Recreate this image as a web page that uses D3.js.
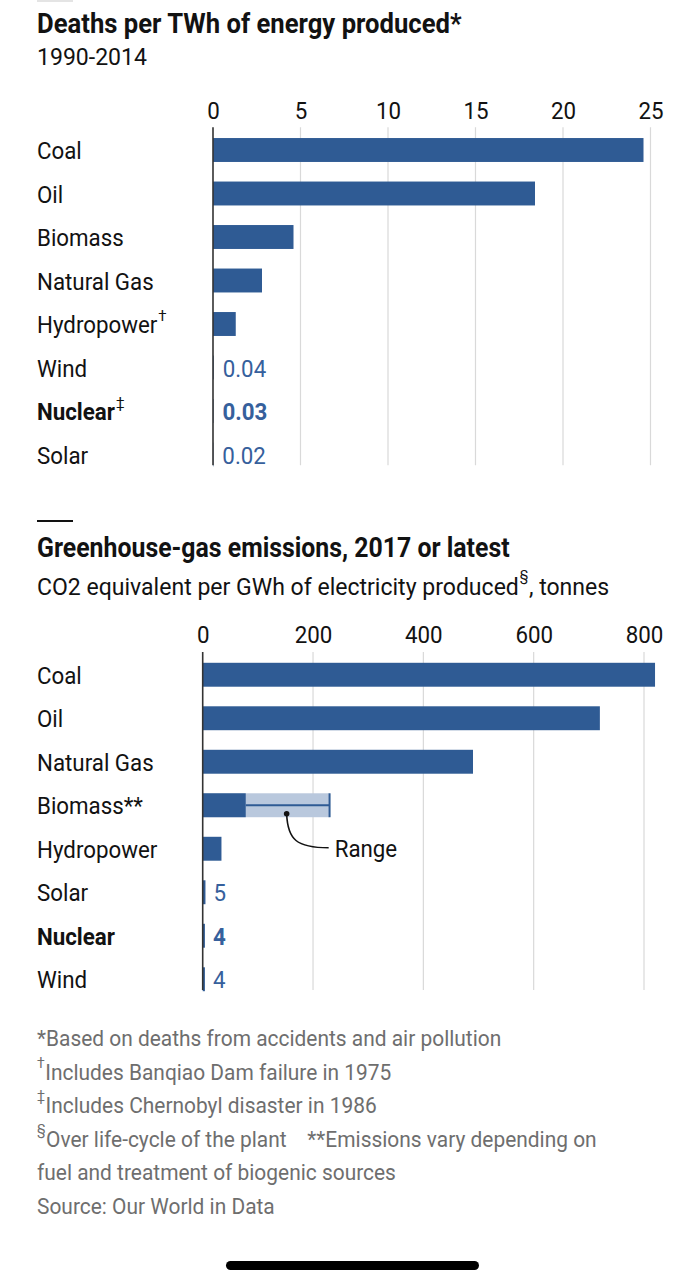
<!DOCTYPE html>
<html><head><meta charset="utf-8">
<script src="https://cdn.jsdelivr.net/npm/d3@7/dist/d3.min.js"></script>
<style>
body{margin:0;background:#fff}
svg text{font-family:'Roboto','Liberation Sans',sans-serif}
</style>
</head><body>
<svg id="c" width="700" height="1286"></svg>
<script>
// ---- data ----
const deathCategories = ["Coal","Oil","Biomass","Natural Gas","Hydropower","Wind","Nuclear","Solar"];
const deathMarks      = ["","","","","†","","‡",""];
const deathValues     = [24.6,18.4,4.6,2.8,1.3,0.04,0.03,0.02];
const deathLabels     = ["","","","","","0.04","0.03","0.02"];
const deathTicks      = [0,5,10,15,20,25];

const ghgCategories = ["Coal","Oil","Natural Gas","Biomass**","Hydropower","Solar","Nuclear","Wind"];
const ghgValues     = [820,720,490,78,34,5,4,4];
const ghgRangeMax   = [null,null,null,230,null,null,null,null];
const ghgLabels     = ["","","","","","5","4","4"];
const ghgTicks      = [0,200,400,600,800];

const boldCategory = "Nuclear";

const footnoteMarks = ["","†","‡","§","",""];
const footnoteTexts = [
  "*Based on deaths from accidents and air pollution",
  "Includes Banqiao Dam failure in 1975",
  "Includes Chernobyl disaster in 1986",
  "Over life-cycle of the plant    **Emissions vary depending on",
  "fuel and treatment of biogenic sources",
  "Source: Our World in Data"
];

// ---- style ----
const BAR = "#2f5b94", RANGE = "#b9c8dd", LABELBLUE = "#36609c", GRID = "#d9d9d9", INK = "#121212", GREY = "#6e6e6e";
const LBL = 24, LBLK = 0.93;
const svg = d3.select("#c");

// horizontally condense a text (keeps its anchor point) via a transform
function condense(sel, k){
  sel.each(function(){
    const x = +this.getAttribute("x") || 0, y = +this.getAttribute("y") || 0;
    this.setAttribute("x", 0); this.setAttribute("y", 0);
    this.setAttribute("transform", `translate(${x},${y}) scale(${k},1)`);
    this.__x = x; this.__y = y; this.__k = k;
  });
  return sel;
}
function endX(sel){
  const n = sel.node();
  const x = n.__x != null ? n.__x : +n.getAttribute("x");
  const k = n.__k || 1;
  return x + n.getComputedTextLength()*k;
}
function baseY(sel){ const n = sel.node(); return n.__y != null ? n.__y : +n.getAttribute("y"); }
function supAfter(parent, sel, mark, size, rise, fill){
  return parent.append("text").attr("x", endX(sel)+1).attr("y", baseY(sel) - rise)
    .attr("font-size", size).attr("fill", fill).text(mark);
}

function chart(opt){
  const g = svg.append("g");
  const x = d3.scaleLinear().domain(opt.domain).range(opt.xr);
  const y = d3.scaleBand().domain(opt.cats).range([opt.y0, opt.y0 + opt.cats.length*43.5])
              .paddingInner(0.45).paddingOuter(0.225);
  const top = opt.y0 - 1, bot = opt.y0 + opt.cats.length*43.5 - 11;
  // grid
  g.selectAll("line.grid").data(opt.ticks.filter(t=>t>0)).join("line")
    .attr("x1",d=>x(d)).attr("x2",d=>x(d)).attr("y1",top).attr("y2",bot)
    .attr("stroke",GRID).attr("stroke-width",1.2);
  // axis labels
  const ax = g.append("g").attr("transform",`translate(0,${opt.y0})`)
    .call(d3.axisTop(x).tickValues(opt.ticks).tickSize(0).tickPadding(opt.tickPad).tickFormat(d3.format("d")));
  ax.select(".domain").remove();
  ax.selectAll("text").attr("font-size",LBL).attr("fill",INK).attr("dy",null).style("font-family","'Roboto',sans-serif");
  condense(ax.selectAll("text"), LBLK);
  // range
  opt.rangeMax.forEach((m,i)=>{
    if(m==null) return;
    const c = opt.cats[i], cy = y(c)+y.bandwidth()/2;
    g.append("rect").attr("x",x(0)).attr("y",y(c)).attr("width",x(m)-x(0)).attr("height",y.bandwidth()).attr("fill",RANGE);
    g.append("line").attr("x1",x(opt.vals[i])).attr("x2",x(m)).attr("y1",cy).attr("y2",cy).attr("stroke",BAR).attr("stroke-width",2);
    g.append("line").attr("x1",x(m)).attr("x2",x(m)).attr("y1",y(c)).attr("y2",y(c)+y.bandwidth()).attr("stroke",BAR).attr("stroke-width",2);
    // annotation
    const dx = x((opt.vals[i]+m)/2)-1, dy = cy+8.5;
    g.append("circle").attr("cx",dx).attr("cy",dy).attr("r",2.8).attr("fill",INK);
    g.append("path").attr("d",`M${dx},${dy} C${dx+1},${dy+26} ${dx+10},${dy+34} ${dx+42},${dy+34}`)
      .attr("fill","none").attr("stroke",INK).attr("stroke-width",1.6);
    condense(g.append("text").attr("x",dx+48).attr("y",dy+43).attr("font-size",LBL).attr("fill",INK).text("Range"), LBLK);
  });
  // bars
  g.selectAll("rect.bar").data(opt.cats).join("rect").attr("class","bar")
    .attr("x",x(0)).attr("y",d=>y(d)).attr("height",y.bandwidth())
    .attr("width",(d,i)=>x(opt.vals[i])-x(0))
    .attr("fill",BAR);
  // axis line
  g.append("line").attr("x1",x(0)).attr("x2",x(0)).attr("y1",top).attr("y2",bot).attr("stroke","#333").attr("stroke-width",1.6);
  // category labels
  opt.cats.forEach((c,i)=>{
    const t = g.append("text").attr("x",37).attr("y",y(c)+y.bandwidth()/2+9).attr("font-size",LBL).attr("fill",INK)
      .attr("font-weight", c===boldCategory?"bold":"normal").text(c);
    condense(t, LBLK);
    if(opt.marks && opt.marks[i]) supAfter(g, t, opt.marks[i], 15, 12, INK);
    if(opt.labels[i]) condense(g.append("text").attr("x",x(opt.vals[i])+opt.labPad).attr("y",y(c)+y.bandwidth()/2+9)
      .attr("font-size",LBL).attr("fill",LABELBLUE).attr("font-weight", c===boldCategory?"bold":"normal").text(opt.labels[i]), LBLK);
  });
}

// top marker
svg.append("rect").attr("x",37).attr("y",0).attr("width",36).attr("height",2).attr("fill","#e4e4e4");

// chart 1
condense(svg.append("text").attr("x",37).attr("y",33).attr("font-size",27).attr("font-weight","bold").attr("fill",INK).text("Deaths per TWh of energy produced*"), 0.95);
condense(svg.append("text").attr("x",37).attr("y",65).attr("font-size",24).attr("fill",INK).text("1990-2014"), 0.96);
chart({cats:deathCategories, marks:deathMarks, vals:deathValues, labels:deathLabels, ticks:deathTicks,
  rangeMax:deathCategories.map(()=>null), domain:[0,25], xr:[213,650.5], y0:128.25, tickPad:9, labPad:9});

// chart 2
svg.append("rect").attr("x",37).attr("y",520).attr("width",36).attr("height",2).attr("fill",INK);
condense(svg.append("text").attr("x",37).attr("y",557).attr("font-size",27).attr("font-weight","bold").attr("fill",INK).text("Greenhouse-gas emissions, 2017 or latest"), 0.92);
const sub = condense(svg.append("text").attr("x",37).attr("y",595).attr("font-size",24).attr("fill",INK).text("CO2 equivalent per GWh of electricity produced"), 0.96);
const sec = supAfter(svg, sub, "§", 14, 14, INK);
condense(svg.append("text").attr("x",endX(sec)+0.5).attr("y",595).attr("font-size",24).attr("fill",INK).text(", tonnes"), 0.96);
chart({cats:ghgCategories, marks:null, vals:ghgValues, labels:ghgLabels, ticks:ghgTicks,
  rangeMax:ghgRangeMax, domain:[0,800], xr:[202.7,644], y0:653, tickPad:10, labPad:8});

// footnotes
footnoteTexts.forEach((txt,i)=>{
  const yy = 1046+i*33.5;
  let x0 = 37;
  if(footnoteMarks[i]){
    const m = svg.append("text").attr("x",37).attr("y",yy-12).attr("font-size",14).attr("fill",GREY).text(footnoteMarks[i]);
    x0 = endX(m) + 0.5;
  }
  const t = svg.append("text").attr("x",x0).attr("y",yy).attr("font-size",22.5).attr("fill",GREY)
    .attr("xml:space","preserve").style("white-space","pre").text(txt);
  condense(t, 0.93);
});

// home indicator
svg.append("rect").attr("x",226).attr("y",1261).attr("width",253).attr("height",9).attr("rx",4.5).attr("fill","#000");
</script>
</body></html>
